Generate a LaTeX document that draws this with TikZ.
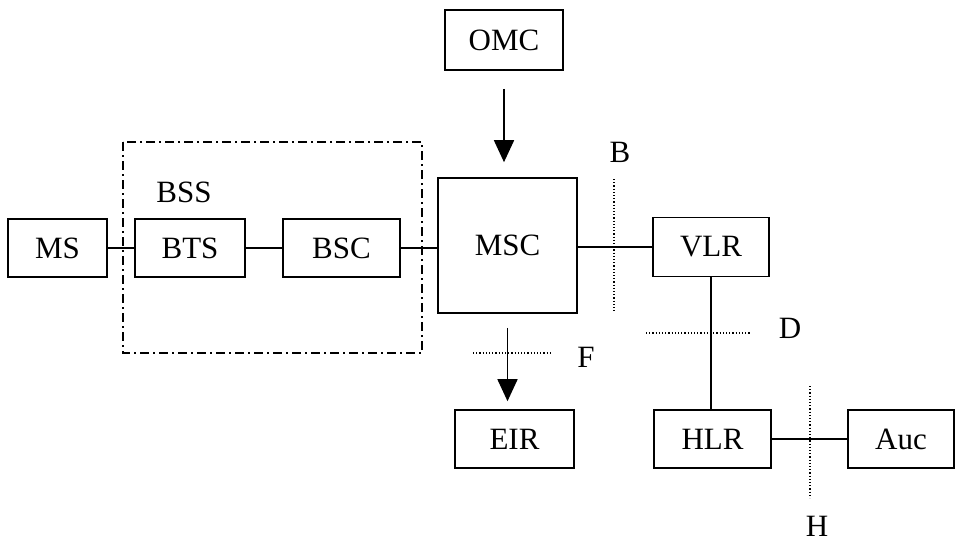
\documentclass[tikz,border=0pt]{standalone}
\usepackage{fontspec}
\setmainfont{Liberation Serif}
\usetikzlibrary{arrows.meta}

\begin{document}
\begin{tikzpicture}
  [x=1pt,y=-1pt,
    font=\fontsize{31}{36}\selectfont,
    line width=1.6pt,
    unit/.style={draw,minimum height=58pt,inner sep=0pt},
    tag/.style={inner sep=1pt},
    iface/.style={dotted,line width=1.2pt},
    feed/.style={-{Triangle[width=20pt,length=22pt]}}]

  \useasboundingbox (0,0) rectangle (957,544);

  % base station subsystem
  \draw[dash pattern=on 9pt off 4pt on 2pt off 4pt] (123,142) rectangle (422,353);
  \node[tag] (bss) at (184,192) {BSS};

  \node[unit,minimum width=99pt] (ms) at (57.5,248) {MS};
  \node[unit,minimum width=110pt] (bts) at (190,248) {BTS};
  \node[unit,minimum width=117pt] (bsc) at (341.5,248) {BSC};

  % switching subsystem
  \node[unit,minimum width=139pt,minimum height=135pt] (msc) at (507.5,245.5) {MSC};
  \node[unit,minimum width=118pt,minimum height=60pt] (omc) at (504,40) {OMC};
  \node[unit,minimum width=116pt,minimum height=59pt] (vlr) at (711,247) {VLR};
  \node[unit,minimum width=119pt] (eir) at (514.5,439) {EIR};
  \node[unit,minimum width=117pt] (hlr) at (712.5,439) {HLR};
  \node[unit,minimum width=106pt] (auc) at (901,439) {Auc};

  \draw (ms.east) -- (bts.west);
  \draw (bts) -- (bsc);
  \draw (bsc.east) -- (bsc.east -| msc.west);
  \draw (vlr.west -| msc.east) -- (vlr.west);
  \draw (vlr.south) -- (vlr.south |- hlr.north);
  \draw (hlr.east) -- (auc.west);

  \draw[feed,shorten <=18pt,shorten >=15pt] (omc.south) -- (omc.south |- msc.north);
  \draw[feed,shorten <=14pt,shorten >=8pt] (msc.south) -- (msc.south |- eir.north);

  % interfaces
  \draw[iface] (614,179) -- (614,313);
  \node[tag] (b) at (620,152) {B};
  \draw[iface] (646,333) -- (750,333);
  \node[tag] (d) at (790,328) {D};
  \draw[iface] (473,353) -- (550,353);
  \node[tag] (f) at (586,357) {F};
  \draw[iface] (810,386) -- (810,498);
  \node[tag] (h) at (817,526) {H};

\end{tikzpicture}
\end{document}
